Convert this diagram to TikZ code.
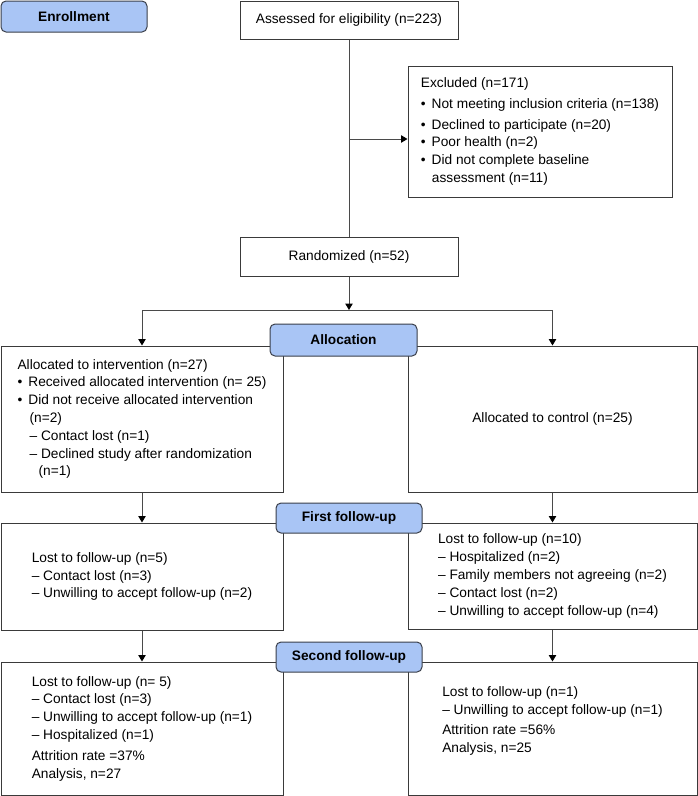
\documentclass[tikz,border=0pt]{standalone}
\usepackage{fontspec}
\setmainfont{Liberation Sans}
\usetikzlibrary{arrows.meta}
\definecolor{stagefill}{HTML}{A9C5F5}
\definecolor{stageline}{HTML}{3A3F4A}
\definecolor{boxline}{HTML}{3A3A3A}
\definecolor{arrline}{HTML}{4A4A4A}
\newcommand{\bul}{•\hspace{6pt}}

\begin{document}
\begin{tikzpicture}[x=1pt, y=-1pt,
    box/.style={draw=boxline, line width=1pt, rectangle, align=left, inner sep=0pt,
        font=\fontsize{13.7}{17.8}\selectfont},
    stage/.style={draw=stageline, fill=stagefill, line width=1pt, rounded corners=5pt,
        inner sep=0pt, font=\fontsize{13.7}{16}\selectfont\bfseries},
    link/.style={draw=arrline, line width=1pt},
    arr/.style={link, -{Triangle[length=6.5pt, width=7.5pt, black]}}]
    \useasboundingbox (0,0) rectangle (698,796);

    \node[stage, minimum width=146pt, minimum height=31pt] (enrol) at (74,16.5) {Enrollment};
    \node[box, minimum width=218pt, minimum height=38pt] (assess) at (349,20) {Assessed for eligibility (n=223)};
    \node[box, minimum width=264pt, minimum height=131pt] (excl) at (540,131.5)
        {Excluded (n=171)\\[3pt]
         \bul Not meeting inclusion criteria (n=138)\\[3pt]
         \bul Declined to participate (n=20)\\
         \bul Poor health (n=2)\\
         \bul Did not complete baseline\\
         \hspace*{11pt}assessment (n=11)};
    \node[box, minimum width=218pt, minimum height=39pt] (rand) at (349,256.5) {Randomized (n=52)};

    \node[box, minimum width=282pt, minimum height=146pt] (interv) at (142,419)
        {Allocated to intervention (n=27)\\
         \bul Received allocated intervention (n= 25)\\
         \bul Did not receive allocated intervention\\
         \hspace*{12pt}(n=2)\\
         \hspace*{12pt}– Contact lost (n=1)\\
         \hspace*{12pt}– Declined study after randomization\\
         \hspace*{21pt}(n=1)};
    \node[box, minimum width=289pt, minimum height=146pt] (ctrl) at (552.5,419) {Allocated to control (n=25)};

    \node[box, minimum width=282pt, minimum height=107pt] (fuAi) at (142,576.5)
        {Lost to follow-up (n=5)\\
         – Contact lost (n=3)\\
         – Unwilling to accept follow-up (n=2)};
    \node[box, minimum width=289pt, minimum height=106pt] (fuAc) at (552.5,576)
        {Lost to follow-up (n=10)\\
         – Hospitalized (n=2)\\
         – Family members not agreeing (n=2)\\
         – Contact lost (n=2)\\
         – Unwilling to accept follow-up (n=4)};

    \node[box, minimum width=282pt, minimum height=133pt] (fuBi) at (142,728.5)
        {Lost to follow-up (n= 5)\\
         – Contact lost (n=3)\\
         – Unwilling to accept follow-up (n=1)\\
         – Hospitalized (n=1)\\[3pt]
         Attrition rate =37\%\\
         Analysis, n=27};
    \node[box, minimum width=289pt, minimum height=133pt] (fuBc) at (552.5,728.5)
        {Lost to follow-up (n=1)\\
         – Unwilling to accept follow-up (n=1)\\[3pt]
         Attrition rate =56\%\\
         Analysis, n=25\\
         \mbox{}};

    \node[stage, minimum width=147pt, minimum height=32pt] (alloc) at (343.5,340) {Allocation};
    \node[stage, minimum width=146pt, minimum height=30pt] (fu1) at (349,518) {First follow-up};
    \node[stage, minimum width=146pt, minimum height=30pt] (fu2) at (349,657) {Second follow-up};

    \coordinate (branch) at (349,139);
    \coordinate (split) at (349,310);
    \draw[link] (assess) -- (rand);
    \draw[arr] (branch) -- (excl.west |- branch);
    \draw[arr] (rand) -- (split);
    \draw[arr] (split) -| (interv.north);
    \draw[arr] (split) -| (ctrl.north);
    \draw[arr] (interv) -- (fuAi);
    \draw[arr] (ctrl) -- (fuAc);
    \draw[arr] (fuAi) -- (fuBi);
    \draw[arr] (fuAc) -- (fuBc);
\end{tikzpicture}
\end{document}
